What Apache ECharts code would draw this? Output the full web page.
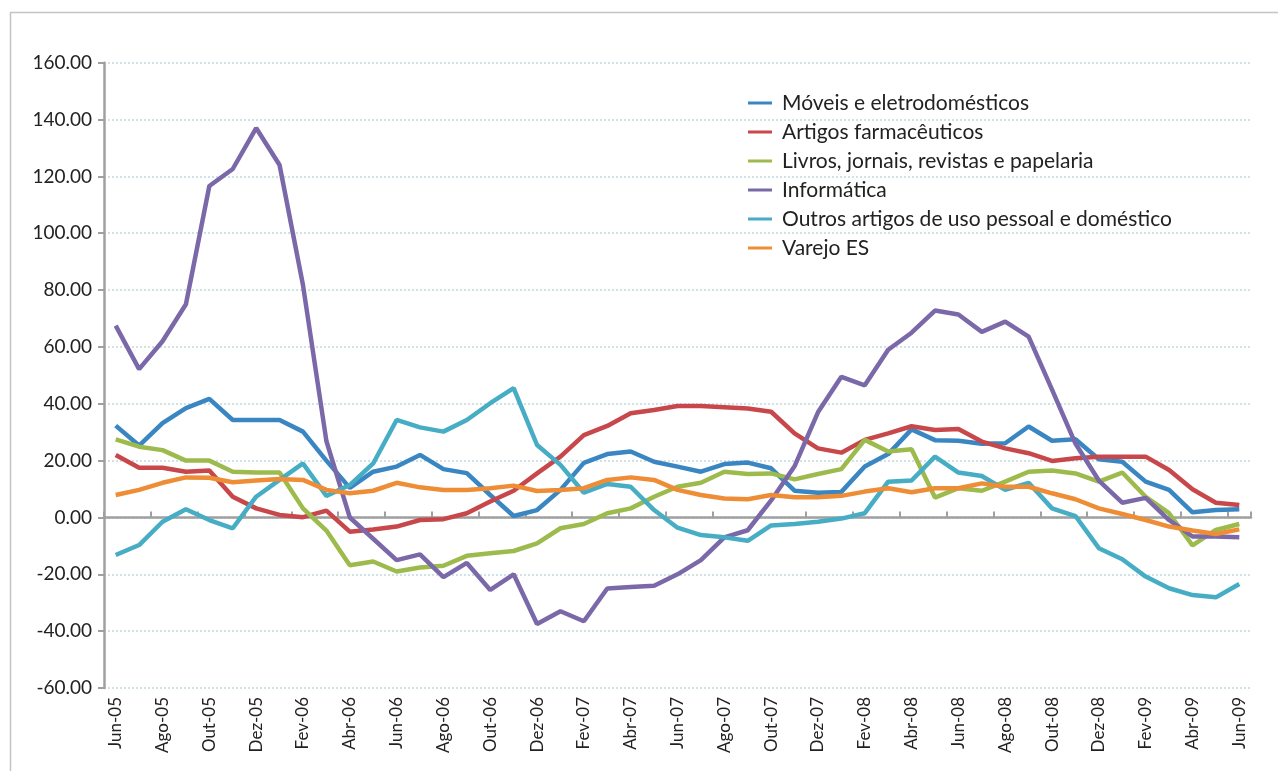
<!DOCTYPE html>
<html>
<head>
<meta charset="utf-8">
<script src="https://cdn.jsdelivr.net/npm/echarts@6/dist/echarts.min.js"></script>
<style>
  html, body { margin: 0; padding: 0; background: #fff; }
  #chart { width: 1278px; height: 771px; }
</style>
</head>
<body>
<div id="chart"></div>
<script>
// months Jun-05 .. Jun-09
let months = ['Jun-05','Jul-05','Ago-05','Set-05','Out-05','Nov-05','Dez-05','Jan-06','Fev-06','Mar-06',
  'Abr-06','Mai-06','Jun-06','Jul-06','Ago-06','Set-06','Out-06','Nov-06','Dez-06','Jan-07',
  'Fev-07','Mar-07','Abr-07','Mai-07','Jun-07','Jul-07','Ago-07','Set-07','Out-07','Nov-07',
  'Dez-07','Jan-08','Fev-08','Mar-08','Abr-08','Mai-08','Jun-08','Jul-08','Ago-08','Set-08',
  'Out-08','Nov-08','Dez-08','Jan-09','Fev-09','Mar-09','Abr-09','Mai-09','Jun-09'];

let moveis = [32.3,25.3,33.2,38.5,41.7,34.3,34.3,34.3,30.2,20.0,
  10.4,16.1,17.9,22.0,17.0,15.6,7.9,0.5,2.6,9.7,
  19.2,22.3,23.2,19.6,17.9,16.1,18.8,19.3,17.3,9.4,
  8.7,9.0,17.9,22.3,31.0,27.2,27.0,25.9,26.1,32.0,
  27.0,27.5,20.5,19.6,12.6,9.7,1.8,2.6,2.9];

let farmaceuticos = [22.0,17.5,17.5,16.1,16.5,7.3,3.2,0.9,0.1,2.4,
  -5.0,-4.2,-3.2,-0.9,-0.6,1.5,5.6,9.4,15.5,21.4,
  29.0,32.2,36.7,37.8,39.2,39.2,38.8,38.3,37.2,29.6,
  24.3,22.8,27.3,29.6,32.1,30.8,31.1,26.7,24.3,22.6,
  19.9,20.8,21.4,21.4,21.4,16.7,9.9,5.2,4.4];

let livros = [27.5,24.9,23.7,20.0,20.0,16.1,15.8,15.8,3.2,-4.6,
  -16.8,-15.5,-19.0,-17.6,-17.0,-13.5,-12.6,-11.8,-9.1,-3.8,
  -2.3,1.5,3.2,7.3,10.8,12.2,16.1,15.3,15.5,13.4,
  15.3,17.0,27.3,23.2,24.0,7.0,10.3,9.4,12.6,16.1,
  16.5,15.5,12.6,15.8,7.3,1.5,-9.8,-4.4,-2.3];

let informatica = [67.5,52.2,62.0,75.0,116.6,122.6,137.0,124.0,81.8,26.9,
  0.0,-7.5,-15.0,-13.0,-21.0,-16.0,-25.5,-20.0,-37.5,-33.0,
  -36.5,-25.0,-24.5,-24.0,-20.0,-15.0,-7.0,-4.5,6.0,18.0,
  37.0,49.5,46.5,59.0,65.0,72.8,71.4,65.3,68.9,63.6,
  45.0,26.0,13.0,5.2,6.9,-0.9,-6.7,-6.7,-7.0];

let outros = [-13.2,-9.7,-1.5,2.9,-0.9,-3.8,7.3,13.2,19.0,7.6,
  11.4,19.0,34.3,31.7,30.2,34.3,40.2,45.5,25.5,18.5,
  8.7,11.8,10.8,2.6,-3.6,-6.2,-7.0,-8.2,-2.8,-2.3,
  -1.5,-0.4,1.5,12.6,13.0,21.4,15.8,14.6,9.7,12.2,
  3.2,0.5,-10.8,-14.7,-20.8,-24.9,-27.3,-28.1,-23.4];

let varejo = [7.9,9.7,12.2,14.1,14.0,12.4,13.0,13.5,13.2,9.7,
  8.5,9.4,12.2,10.6,9.7,9.7,10.3,11.2,9.3,9.7,
  10.3,13.2,14.1,13.2,9.7,7.9,6.7,6.4,7.9,7.1,
  7.1,7.6,9.1,10.3,8.9,10.3,10.3,12.0,10.8,10.8,
  8.5,6.4,3.2,1.2,-0.9,-3.2,-4.6,-5.8,-4.2];

let names = ['Móveis e eletrodomésticos','Artigos farmacêuticos','Livros, jornais, revistas e papelaria',
  'Informática','Outros artigos de uso pessoal e doméstico','Varejo ES'];
let colors = ['#3a86c2','#c8474a','#9dbb4c','#7b68a8','#47adc4','#ee8d36'];
let values = [moveis, farmaceuticos, livros, informatica, outros, varejo];

let font = 'Lato, "Noto Sans", sans-serif';

let series = [];
for (let i = 0; i < names.length; i++) {
    series.push({
        name: names[i],
        type: 'line',
        data: values[i],
        symbol: 'none',
        lineStyle: { width: 4.5, color: colors[i] },
        itemStyle: { color: colors[i] }
    });
}

let option = {
    animation: false,
    backgroundColor: '#fff',
    graphic: [{
        type: 'rect',
        left: 8, top: 10,
        shape: { width: 1300, height: 800 },
        style: { fill: 'none', stroke: '#c4c4c4', lineWidth: 1.5 },
        z: -1
    }],
    legend: {
        orient: 'vertical',
        left: 743,
        top: 87,
        itemWidth: 24,
        itemHeight: 3,
        itemGap: 7,
        icon: 'rect',
        data: names,
        textStyle: { fontFamily: font, fontSize: 21, color: '#222', lineHeight: 22, padding: [0, 0, 0, 5] }
    },
    grid: { left: 104, right: 27, top: 62.7, bottom: 83 },
    xAxis: [{
        type: 'category',
        data: months,
        boundaryGap: true,
        position: 'bottom',
        axisLine: { show: false, onZero: false },
        axisTick: { show: false },
        axisLabel: {
            interval: 1,
            rotate: 90,
            margin: 9,
            fontFamily: font,
            fontSize: 17,
            color: '#222'
        }
    }, {
        type: 'category',
        data: months,
        boundaryGap: true,
        axisLine: { show: true, onZero: true, lineStyle: { color: '#a0a0a0', width: 2.5 } },
        axisTick: { show: true, interval: 1, length: 6, lineStyle: { color: '#a0a0a0', width: 2 } },
        axisLabel: { show: false }
    }],
    yAxis: {
        type: 'value',
        min: -60,
        max: 160,
        interval: 20,
        axisLine: { show: true, lineStyle: { color: '#a0a0a0', width: 2.5 } },
        axisTick: { show: true, length: 6, lineStyle: { color: '#a0a0a0', width: 2 } },
        axisLabel: {
            margin: 12,
            fontFamily: font,
            fontSize: 19,
            color: '#222',
            formatter: function (v) { return v.toFixed(2); }
        },
        splitLine: { show: true, lineStyle: { color: '#cfe2e6', type: 'dotted', width: 2 } }
    },
    series: series
};

let myChart = echarts.init(document.getElementById('chart'));
myChart.setOption(option);
</script>
</body>
</html>
